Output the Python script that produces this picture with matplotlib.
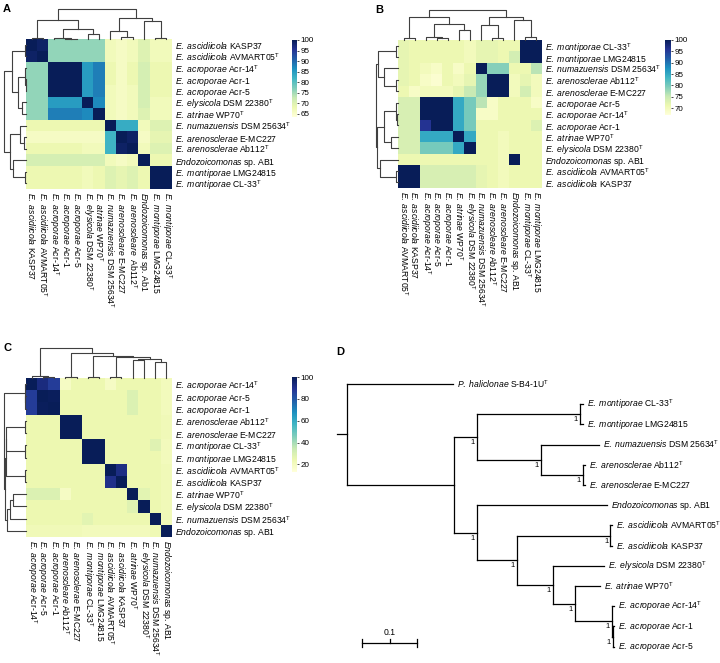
import numpy as np
import matplotlib.pyplot as plt

plt.rcParams['font.family'] = ['Liberation Sans', 'DejaVu Sans']
plt.rcParams['mathtext.fontset'] = 'custom'
plt.rcParams['mathtext.rm'] = 'Liberation Sans'
plt.rcParams['mathtext.it'] = 'Liberation Sans:italic'
plt.rcParams['mathtext.bf'] = 'Liberation Sans:bold'

W, H = 720, 663
FS = 6.2


def lab(sp, strain, t=False):
    s = r'$\mathit{' + sp.replace(' ', r'\ ') + '}$ ' + strain
    if t:
        s += r'${}^{\mathrm{T}}$'
    return s


# ---------------- panel A (ANI) ----------------
a_rows = [('E. ascidiicola', 'KASP37', 0), ('E. ascidiicola', 'AVMART05', 1),
          ('E. acroporae', 'Acr-14', 1), ('E. acroporae', 'Acr-1', 0),
          ('E. acroporae', 'Acr-5', 0), ('E. elysicola', 'DSM 22380', 1),
          ('E. atrinae', 'WP70', 1), ('E. numazuensis', 'DSM 25634', 1),
          ('E. arenosclerae', 'E-MC227', 0), ('E. arenosclerae', 'Ab112', 1),
          ('Endozoicomonas', 'sp. AB1', 0), ('E. montiporae', 'LMG24815', 0),
          ('E. montiporae', 'CL-33', 1)]
a_cols = [('E. ascidiicola', 'KASP37', 0), ('E. ascidiicola', 'AVMART05', 1),
          ('E. acroporae', 'Acr-14', 1), ('E. acroporae', 'Acr-1', 0),
          ('E. acroporae', 'Acr-5', 0), ('E. elysicola', 'DSM 22380', 1),
          ('E. atrinae', 'WP70', 1), ('E. numazuensis', 'DSM 25634', 1),
          ('E. arenoscleare', 'E-MC227', 0), ('E. arenoscleare', ' Ab112', 1),
          ('Endozoicomonas', 'sp. Ab1', 0), ('E. montiporae', 'LMG24815', 0),
          ('E. montiporae', 'CL-33', 1)]
a_vals = [
    [100, 99, 76, 76, 76, 76, 76, 67, 66, 67, 70, 67, 67],
    [99, 100, 76, 76, 76, 76, 76, 67, 66, 67, 70, 67, 67],
    [76, 76, 100, 100, 100, 85, 88, 68, 66, 68, 71, 68, 68],
    [76, 76, 100, 100, 100, 85, 88, 68, 66, 68, 71, 68, 68],
    [76, 76, 100, 100, 100, 85, 88, 67, 66, 67, 71, 68, 68],
    [76, 76, 85, 85, 85, 100, 87, 67, 66, 67, 71, 67, 67],
    [76, 76, 88, 88, 88, 87, 100, 67, 66, 67, 70, 67, 67],
    [68, 68, 68, 68, 68, 68, 68, 100, 83, 83, 67, 70, 70],
    [66, 66, 66, 66, 66, 66, 66, 82, 100, 99, 66, 69, 69],
    [68, 68, 68, 68, 68, 67, 67, 82, 99, 100, 67, 70, 70],
    [71, 71, 71, 71, 71, 71, 71, 67, 66, 67, 100, 68, 68],
    [68, 68, 68, 68, 68, 67, 68, 70, 69, 70, 68, 100, 100],
    [68, 68, 68, 68, 68, 67, 68, 70, 69, 70, 68, 100, 100]]
a_ticks = [65, 70, 75, 80, 85, 90, 95, 100]
a_col_link = [(3, 4, 0.01), (2, 13, 0.03), (0, 1, 0.035), (11, 12, 0.035),
              (8, 9, 0.07), (5, 6, 0.17), (7, 17, 0.26), (14, 18, 0.35),
              (10, 16, 0.6), (15, 20, 0.636), (19, 21, 0.716), (22, 23, 1.0)]
a_row_link = a_col_link

# ---------------- panel B (AAI) ----------------
b_rows = [('E. montiporae', 'CL-33', 1), ('E. montiporae', 'LMG24815', 0),
          ('E. numazuensis', 'DSM 25634', 1), ('E. arenosclerae', 'Ab112', 1),
          ('E. arenosclerae', 'E-MC227', 0), ('E. acroporae', 'Acr-5', 0),
          ('E. acroporae', 'Acr-14', 1), ('E. acroporae', 'Acr-1', 0),
          ('E. atrinae', 'WP70', 1), ('E. elysicola', 'DSM 22380', 1),
          ('Endozoicomonas', 'sp. AB1', 0), ('E. ascidiicola', 'AVMART05', 1),
          ('E. ascidiicola', 'KASP37', 0)]
b_cols = [('E. ascidiicola', 'AVMART05', 1), ('E. ascidiicola', 'KASP37', 0),
          ('E. acroporae', 'Acr-14', 1), ('E. acroporae', 'Acr-5', 0),
          ('E. acroporae', 'Acr-1', 0), ('E. atrinae', 'WP70', 1),
          ('E. elysicola', 'DSM 22380', 1), ('E. numazuensis', 'DSM 25634', 1),
          ('E. arenoscleare', 'Ab112', 1), ('E. arenoscleare', 'E-MC227', 0),
          ('Endozoicomonas', 'sp. AB1', 0), ('E. montiporae', 'CL-33', 1),
          ('E. montiporae', 'LMG24815', 0)]
b_vals = [
    [72, 71, 71, 71, 71, 71, 70, 72, 72, 71, 71, 100, 100],
    [72, 71, 71, 71, 71, 71, 70, 72, 72, 71, 74, 100, 100],
    [72, 71, 70, 69, 71, 69, 71, 100, 79, 79, 71, 71, 76],
    [72, 71, 69, 68, 71, 70, 72, 78, 100, 100, 70, 72, 70],
    [71, 69, 70, 70, 70, 72, 75, 78, 100, 100, 70, 74, 70],
    [73.5, 73.5, 100, 100, 100, 85, 80, 76, 69, 71, 71, 71, 69],
    [73.5, 73.5, 100, 100, 100, 85, 80, 69, 69, 71, 71, 71, 71],
    [73.5, 73.5, 96, 100, 100, 85, 80, 71, 71, 71, 71, 71, 73],
    [73.5, 73.5, 85, 85, 85, 100, 85, 71, 71, 70, 71, 71, 71],
    [73.5, 73.5, 80, 80, 80, 85, 100, 71, 71, 70, 71, 71, 71],
    [71, 71, 71, 71, 71, 71, 71, 71, 71, 70, 100, 71, 71],
    [100, 100, 73.5, 73.5, 73.5, 73.5, 73.5, 72, 71, 70, 71, 71, 71],
    [100, 100, 73.5, 73.5, 73.5, 73.5, 73.5, 72, 71, 70, 71, 71, 71]]
b_ticks = [70, 75, 80, 85, 90, 95, 100]
b_col_link = [(0, 1, 0.076), (3, 4, 0.076), (2, 14, 0.11), (5, 6, 0.35),
              (15, 16, 0.54), (13, 17, 0.76), (8, 9, 0.076), (7, 19, 0.51),
              (11, 12, 0.1), (10, 21, 0.67), (20, 22, 0.78), (18, 23, 1.0)]
b_row_link = [(0, 1, 0.08), (3, 4, 0.08), (2, 14, 0.63), (13, 15, 0.92),
              (6, 7, 0.05), (5, 17, 0.1), (8, 9, 0.32), (18, 19, 0.65),
              (11, 12, 0.08), (10, 21, 0.82), (20, 22, 0.95), (16, 23, 1.0)]

# ---------------- panel C (dDDH) ----------------
c_rows = [('E. acroporae', 'Acr-14', 1), ('E. acroporae', 'Acr-5', 0),
          ('E. acroporae', 'Acr-1', 0), ('E. arenosclerae', 'Ab112', 1),
          ('E. arenosclerae', 'E-MC227', 0), ('E. montiporae', 'CL-33', 1),
          ('E. montiporae', 'LMG24815', 0), ('E. ascidiicola', 'AVMART05', 1),
          ('E. ascidiicola', 'KASP37', 0), ('E. atrinae', 'WP70', 1),
          ('E. elysicola', 'DSM 22380', 1), ('E. numazuensis', 'DSM 25634', 1),
          ('Endozoicomonas', 'sp. AB1', 0)]
c_cols = [('E. acroporae', 'Acr-14', 1), ('E. acroporae', 'Acr-5', 0),
          ('E. acroporae', 'Acr-1', 0), ('E. arenoscleare', 'Ab112', 1),
          ('E. arenosclerae', 'E-MC227', 0), ('E. montiporae', 'CL-33', 1),
          ('E. montiporae', 'LMG24815', 0), ('E. ascidiicola', 'AVMART05', 1),
          ('E. ascidiicola', 'KASP37', 0), ('E. atrinae', 'WP70', 1),
          ('E. elysicola', 'DSM 22380', 1), ('E. numazuensis', 'DSM 25634', 1),
          ('Endozoicomonas', 'sp. AB1', 0)]
c_vals = [
    [100, 93, 87, 19, 24, 24, 24, 19, 24, 24, 24, 24, 21],
    [87, 100, 99, 24, 24, 24, 24, 24, 24, 29, 24, 24, 21],
    [87, 99, 100, 24, 24, 24, 24, 24, 24, 29, 24, 24, 21],
    [24, 24, 24, 100, 100, 24, 24, 24, 24, 24, 24, 24, 22],
    [24, 24, 24, 100, 100, 24, 24, 24, 24, 24, 24, 24, 22],
    [24, 24, 24, 24, 24, 100, 100, 24, 24, 24, 24, 28, 21],
    [24, 24, 24, 24, 24, 100, 100, 24, 24, 24, 24, 24, 21],
    [24, 24, 24, 24, 24, 24, 24, 100, 92, 24, 24, 24, 22],
    [24, 24, 24, 24, 24, 24, 24, 91, 100, 24, 24, 24, 22],
    [29, 29, 29, 19, 24, 24, 24, 24, 24, 100, 27, 24, 22],
    [24, 24, 24, 24, 24, 24, 24, 24, 24, 28, 100, 24, 22],
    [24, 24, 24, 24, 24, 27, 24, 24, 24, 24, 24, 100, 22],
    [22, 22, 22, 22, 22, 21, 21, 21, 21, 21, 21, 23, 100]]
c_ticks = [20, 40, 60, 80, 100]
c_col_link = [(1, 2, 0.03), (0, 13, 0.06), (3, 4, 0.04), (5, 6, 0.03),
              (7, 8, 0.05), (9, 10, 0.6), (11, 12, 0.55), (18, 19, 0.65),
              (17, 20, 0.7), (16, 21, 0.75), (15, 22, 0.83), (14, 23, 1.0)]
c_row_link = [(1, 2, 0.03), (0, 13, 0.06), (3, 4, 0.03), (5, 6, 0.03),
              (7, 8, 0.05), (9, 10, 0.6), (18, 11, 0.75), (19, 12, 0.85),
              (15, 16, 0.9), (21, 17, 0.93), (22, 20, 0.96), (14, 23, 1.0)]

# ---------------- panel D (tree) ----------------
tree_labels = {
    'phal': ('P. haliclonae', 'S-B4-1U', 1),
    'CL33': ('E. montiporae', 'CL-33', 1), 'LMG': ('E. montiporae', 'LMG24815', 0),
    'num': ('E. numazuensis', 'DSM 25634', 1),
    'Ab112': ('E. arenosclerae', 'Ab112', 1), 'EMC': ('E. arenosclerae', 'E-MC227', 0),
    'AB1': ('Endozoicomonas', 'sp. AB1', 0),
    'AVM': ('E. ascidiicola', 'AVMART05', 1), 'KASP': ('E. ascidiicola', 'KASP37', 0),
    'elys': ('E. elysicola', 'DSM 22380', 1), 'atr': ('E. atrinae', 'WP70', 1),
    'Acr14': ('E. acroporae', 'Acr-14', 1), 'Acr1': ('E. acroporae', 'Acr-1', 0),
    'Acr5': ('E. acroporae', 'Acr-5', 0)}
# (leaf name, branch length, support, children)
tree = (None, 0.018, None, [
    ('phal', 0.193, None, []),
    (None, 0.195, None, [
        (None, 0.041, 1, [
            (None, 0.188, 1, [('CL33', 0.005, None, []), ('LMG', 0.005, None, [])]),
            (None, 0.117, 1, [
                ('num', 0.105, None, []),
                (None, 0.076, 1, [('Ab112', 0.004, None, []), ('EMC', 0.004, None, [])])])]),
        (None, 0.041, 1, [
            ('AB1', 0.236, None, []),
            (None, 0.073, 1, [
                (None, 0.170, 1, [('AVM', 0.003, None, []), ('KASP', 0.003, None, [])]),
                (None, 0.065, 1, [
                    ('elys', 0.093, None, []),
                    (None, 0.041, 1, [
                        ('atr', 0.045, None, []),
                        (None, 0.067, 1, [
                            ('Acr14', 0.003, None, []),
                            (None, 0.002, 1, [('Acr1', 0.002, None, []),
                                              ('Acr5', 0.002, None, [])])])])])])])])])

fig = plt.figure(figsize=(W / 100, H / 100), dpi=100)


def px_axes(x0, y0, x1, y1):
    return fig.add_axes([x0 / W, 1 - y1 / H, (x1 - x0) / W, (y1 - y0) / H])


def draw_dendro(ax, link, n, side):
    pos = list(np.arange(n) + 0.5)
    hgt = [0.0] * n
    for a, b, h in link:
        xs = [pos[a], pos[a], pos[b], pos[b]]
        ys = [hgt[a], h, h, hgt[b]]
        if side == 'top':
            ax.plot(xs, ys, color='#404040', lw=0.8, clip_on=False)
        else:
            ax.plot(ys, xs, color='#404040', lw=0.8, clip_on=False)
        pos.append((pos[a] + pos[b]) / 2)
        hgt.append(h)
    top = max(hgt)
    if side == 'top':
        ax.set_xlim(0, n)
        ax.set_ylim(0, top)
    else:
        ax.set_ylim(n, 0)
        ax.set_xlim(top, 0)
    ax.axis('off')


def panel(box, rows, cols, vals, vmin, ticks, col_link, row_link, letter):
    hx0, hy0, hx1, hy1 = box
    n = len(rows)
    ax = px_axes(hx0, hy0, hx1, hy1)
    m = ax.pcolormesh(np.array(vals, float), cmap='YlGnBu', vmin=vmin, vmax=100)
    ax.set_xlim(0, n)
    ax.set_ylim(n, 0)
    ax.set_xticks(np.arange(n) + 0.5)
    ax.set_xticklabels([lab(*c) for c in cols], rotation=270, fontsize=FS,
                       va='top', ha='center')
    ax.yaxis.tick_right()
    ax.set_yticks(np.arange(n) + 0.5)
    ax.set_yticklabels([lab(*r) for r in rows], fontsize=FS)
    ax.tick_params(length=0, pad=2)
    for s in ax.spines.values():
        s.set_visible(False)
    axc = px_axes(hx0, hy0 - 30, hx1, hy0)
    draw_dendro(axc, col_link, n, 'top')
    axr = px_axes(hx0 - 22, hy0, hx0, hy1)
    draw_dendro(axr, row_link, n, 'left')
    fig.text((hx0 - 23) / W, 1 - (hy0 - 30) / H, letter, fontsize=8,
             fontweight='bold', va='center', ha='left')
    return m


mA = panel((26, 39, 172, 189), a_rows, a_cols, a_vals, 63.5, a_ticks,
           a_col_link, a_row_link, 'A')
cb = fig.colorbar(mA, cax=px_axes(292, 40, 297, 117), ticks=a_ticks)

mB = panel((398, 40, 542, 188), b_rows, b_cols, b_vals, 67, b_ticks,
           b_col_link, b_row_link, 'B')
cbB = fig.colorbar(mB, cax=px_axes(665, 40, 671, 115), ticks=b_ticks)

mC = panel((26, 378, 172, 537), c_rows, c_cols, c_vals, 13, c_ticks,
           c_col_link, c_row_link, 'C')
cbC = fig.colorbar(mC, cax=px_axes(292, 377, 297, 472), ticks=c_ticks)

for c in (cb, cbB, cbC):
    c.outline.set_visible(False)
    c.ax.tick_params(labelsize=5.8, length=1.5, width=0.5, pad=1)

# ---- tree ----
axd = px_axes(330, 370, 720, 660)
leaf_y = {}
order = []


def collect(node):
    name, bl, sup, kids = node
    if not kids:
        order.append(name)
    for k in kids:
        collect(k)


collect(tree)
for i, nm in enumerate(order):
    leaf_y[nm] = i


def draw_node(node, x0):
    name, bl, sup, kids = node
    x1 = x0 + bl
    if not kids:
        y = leaf_y[name]
        axd.annotate(lab(*tree_labels[name]), (x1, y), xytext=(3, 0),
                     textcoords='offset points', fontsize=FS,
                     va='center', ha='left')
    else:
        ys = [draw_node(k, x1) for k in kids]
        axd.plot([x1, x1], [ys[0], ys[-1]], color='black', lw=0.9)
        y = (ys[0] + ys[-1]) / 2
        if sup is not None:
            axd.annotate(str(sup), (x1, y), xytext=(-1.5, -1.5),
                         textcoords='offset points', fontsize=5.5,
                         ha='right', va='top')
    axd.plot([x0, x1], [y, y], color='black', lw=0.9)
    return y


draw_node(tree, 0.0)
axd.set_xlim(-7 / 550, 383 / 550)
axd.set_ylim((660 - 384) / 20.2, (370 - 384) / 20.2)
sb_y = (643 - 384) / 20.2
sb_x = 25 / 550
axd.plot([sb_x, sb_x + 0.1], [sb_y, sb_y], color='black', lw=0.9)
for xx, dy in ((sb_x, 0.2), (sb_x + 0.05, 0.0), (sb_x + 0.1, 0.2)):
    axd.plot([xx, xx], [sb_y - 0.2, sb_y + dy], color='black', lw=0.9)
axd.text(sb_x + 0.05, sb_y - 0.3, '0.1', fontsize=FS, ha='center', va='bottom')
axd.axis('off')
fig.text(336 / W, 1 - 352 / H, 'D', fontsize=8, fontweight='bold',
         va='center', ha='left')

fig.savefig('out.png', dpi=100)
